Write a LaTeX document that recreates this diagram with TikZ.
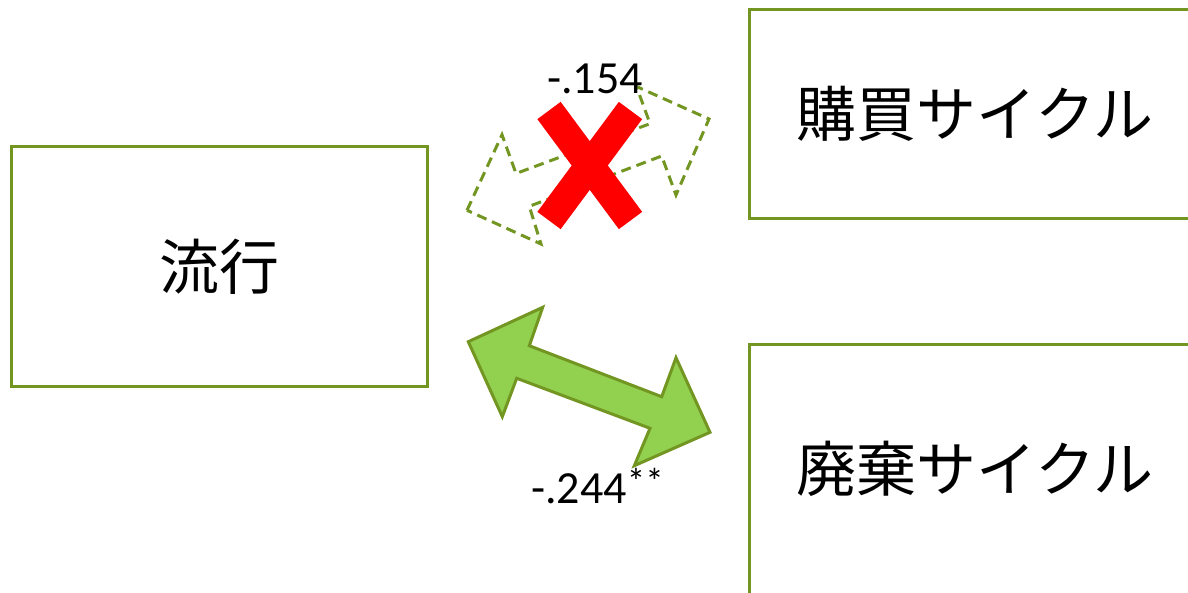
\documentclass[tikz,border=0pt]{standalone}
\usepackage{fontspec}
\setmainfont{Carlito}
\newfontfamily\cjk{Noto Sans CJK JP}
\definecolor{olive}{RGB}{115,150,35}
\definecolor{lightgreen}{RGB}{146,208,80}
\definecolor{xred}{RGB}{255,0,0}
\begin{document}
\begin{tikzpicture}[x=1pt,y=-1pt,
  boxnode/.style={draw=olive,line width=3pt,inner sep=0pt,fill=white,font=\cjk\fontsize{60}{60}\selectfont},
  numlabel/.style={inner sep=0pt,font=\fontsize{46}{46}\selectfont},
  solidarrow/.style={fill=lightgreen,draw=olive,line width=3pt,line join=miter},
  dasharrow/.style={draw=olive,line width=3pt,dash pattern=on 10pt off 6pt,line join=miter},
  crossbar/.style={draw=xred,line width=29pt,line cap=butt}]
\useasboundingbox (0,0) rectangle (1188,592);
\clip (0,0) rectangle (1188,592);
% boxes
\node[boxnode,minimum width=416pt,minimum height=240pt] (fashion) at (219.5,266.5) {流行};
\node[boxnode,minimum width=450.5pt,minimum height=209pt] (buy) at (974.75,114) {購買サイクル};
\node[boxnode,minimum width=450.5pt,minimum height=250pt] (discard) at (974.75,469) {廃棄サイクル};
% dashed (rejected) double arrow
\coordinate (d1) at (467,210.3);
\coordinate (d2) at (541,244);
\coordinate (d3) at (529.3,206.3);
\coordinate (d4) at (661.7,156);
\coordinate (d5) at (676,195);
\coordinate (d6) at (709,119);
\coordinate (d7) at (636.5,86.5);
\coordinate (d8) at (650,123.7);
\coordinate (d9) at (516,173.5);
\coordinate (d10) at (502,134.7);
\draw[dasharrow] (d1) -- (d10) -- (d9) -- (d8) -- (d7) -- (d6) -- (d5) -- (d4) -- (d3) -- (d2) -- cycle;
% red cross
\coordinate (x1) at (549,110.5);
\coordinate (x2) at (630.5,220.5);
\coordinate (x3) at (630.5,110.5);
\coordinate (x4) at (549,220.5);
\draw[crossbar] (x1) -- (x2);
\draw[crossbar] (x3) -- (x4);
% solid double arrow
\coordinate (a1) at (468.3,341.7);
\coordinate (a2) at (542.7,307.3);
\coordinate (a3) at (529.3,345.7);
\coordinate (a4) at (661.7,396.7);
\coordinate (a5) at (676,357.7);
\coordinate (a6) at (710,432.3);
\coordinate (a7) at (634.3,465.7);
\coordinate (a8) at (650,428.3);
\coordinate (a9) at (516.7,378.3);
\coordinate (a10) at (502.3,416.7);
\draw[solidarrow] (a1) -- (a2) -- (a3) -- (a4) -- (a5) -- (a6) -- (a7) -- (a8) -- (a9) -- (a10) -- cycle;
% labels
\node[numlabel,anchor=base] (lab1) at (595,93) {-.154};
\node[numlabel,anchor=base west] (lab2) at (531,503) {-.244\raisebox{9pt}{\fontsize{37}{37}\selectfont **}};
\end{tikzpicture}
\end{document}
